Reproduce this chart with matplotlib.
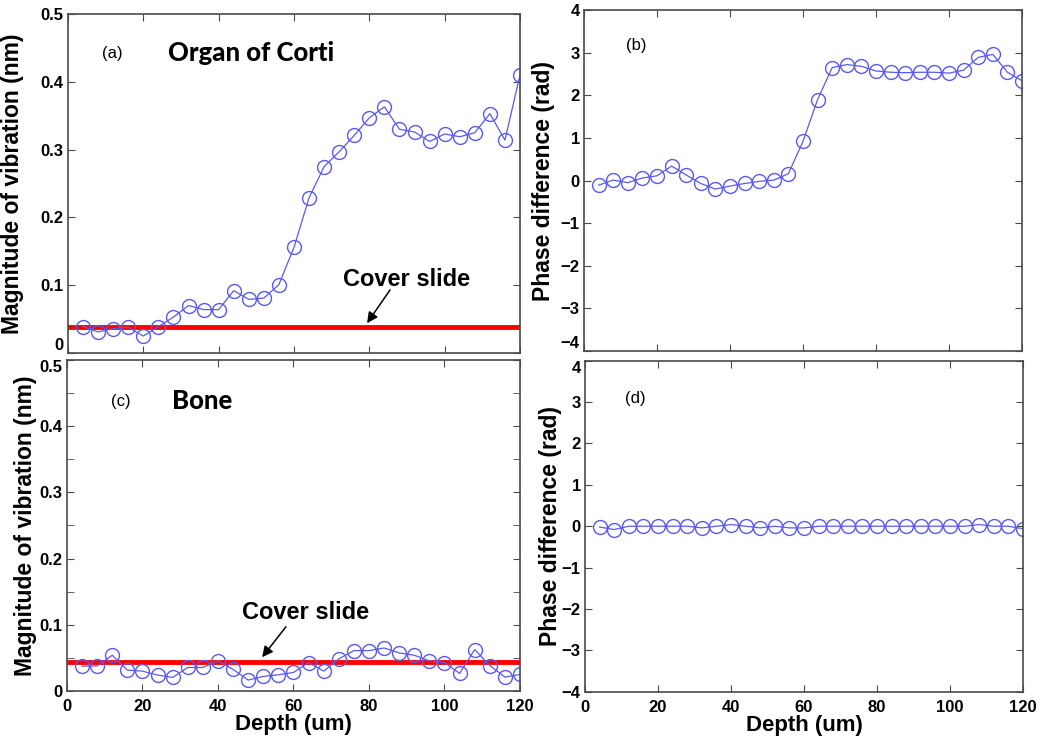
import matplotlib
matplotlib.use('Agg')
import matplotlib.pyplot as plt
import numpy as np
from matplotlib.ticker import MultipleLocator

plt.rcParams['font.family'] = ['Liberation Sans', 'DejaVu Sans']

# Depth samples (um)
depth = np.arange(4, 121, 4)

# (a) Organ of Corti magnitude (nm)
mag_corti = [0.039, 0.031, 0.036, 0.038, 0.025, 0.039, 0.053, 0.070, 0.064, 0.064,
             0.092, 0.079, 0.081, 0.101, 0.156, 0.229, 0.275, 0.297, 0.321, 0.347,
             0.363, 0.330, 0.326, 0.312, 0.323, 0.319, 0.325, 0.353, 0.314, 0.410]
# (b) Organ of Corti phase (rad)
phase_corti = [-0.11, 0.01, -0.05, 0.06, 0.11, 0.34, 0.13, -0.07, -0.20, -0.13,
               -0.07, -0.02, 0.01, 0.16, 0.92, 1.90, 2.65, 2.72, 2.68, 2.57,
               2.54, 2.53, 2.54, 2.54, 2.52, 2.59, 2.89, 2.96, 2.54, 2.34]
# (c) Bone magnitude (nm)
mag_bone = [0.0375, 0.038, 0.054, 0.0315, 0.030, 0.024, 0.0205, 0.0355, 0.0355, 0.0455,
            0.0325, 0.0165, 0.022, 0.0245, 0.028, 0.043, 0.030, 0.0485, 0.061, 0.061,
            0.065, 0.0575, 0.054, 0.0455, 0.043, 0.0265, 0.0625, 0.0385, 0.021, 0.025]
# (d) Bone phase (rad)
phase_bone = [-0.02, -0.08, 0.0, 0.0, 0.0, 0.0, 0.0, -0.04, 0.0, 0.04,
              0.0, -0.04, 0.0, -0.04, -0.04, 0.0, 0.0, 0.0, 0.0, 0.0,
              0.0, 0.0, 0.0, 0.0, 0.0, 0.0, 0.04, 0.0, 0.0, -0.06]

cover_corti = 0.038
cover_bone = 0.044

line_col = '#5a5af0'
edge_col = '#4a4a4a'

fig = plt.figure(figsize=(10.4, 7.38), dpi=100)
ax_a = fig.add_axes([0.0654, 0.5217, 0.4346, 0.4593])
ax_b = fig.add_axes([0.5615, 0.5244, 0.4212, 0.4620])
ax_c = fig.add_axes([0.0644, 0.0637, 0.4356, 0.4485])
ax_d = fig.add_axes([0.5625, 0.0627, 0.4212, 0.4485])


def style(ax, ylim, ymaj, yminor=None, xlabels=True):
    ax.set_xlim(0, 120)
    ax.set_ylim(*ylim)
    ax.xaxis.set_major_locator(MultipleLocator(20))
    ax.yaxis.set_major_locator(MultipleLocator(ymaj))
    if yminor:
        ax.yaxis.set_minor_locator(MultipleLocator(yminor))
        ax.tick_params(axis='y', which='minor', direction='in', length=5,
                       left=True, right=True, color=edge_col)
    ax.tick_params(which='major', direction='in', length=5, top=True, right=True,
                   color=edge_col, labelsize=12, pad=3)
    ax.tick_params(axis='x', pad=6)
    for lab in ax.get_xticklabels() + ax.get_yticklabels():
        lab.set_fontweight('bold')
    if not xlabels:
        ax.tick_params(axis='x', labelbottom=False)
    for s in ax.spines.values():
        s.set_color(edge_col)
        s.set_linewidth(1.2)


def draw(ax, y):
    ax.plot(depth, y, '-', color=line_col, lw=0.9, marker='o', ms=10,
            mfc='none', mec=line_col, mew=1.0)


def cover_label(ax, txt_xy, tail, head):
    ax.text(txt_xy[0], txt_xy[1], 'Cover slide', fontsize=17, fontweight='bold',
            ha='left', va='center')
    ax.annotate('', xy=head, xytext=tail,
                arrowprops=dict(arrowstyle='-|>', color='black', lw=1.1,
                                mutation_scale=16, shrinkA=0, shrinkB=0))


zero_fmt = plt.FuncFormatter(lambda v, p: '0' if v == 0 else '%g' % v)

# (a)
draw(ax_a, mag_corti)
ax_a.axhline(cover_corti, color='#ff0000', lw=3.5, zorder=1)
style(ax_a, (0, 0.5), 0.1, xlabels=False)
ax_a.yaxis.set_major_formatter(zero_fmt)
ax_a.set_ylabel('Magnitude of vibration (nm)', fontsize=16.5, fontweight='bold')
ax_a.yaxis.set_label_coords(-0.097, 0.5)
ax_a.text(0.098, 0.885, '(a)', transform=ax_a.transAxes, fontsize=12, va='center', ha='center')
ax_a.text(0.222, 0.885, 'Organ of Corti', transform=ax_a.transAxes, fontsize=18.5,
          fontweight='black', family=['Lato', 'DejaVu Sans'], va='center', ha='left')
cover_label(ax_a, (73.0, 0.108), (85.5, 0.093), (79.4, 0.044))

# (b)
draw(ax_b, phase_corti)
style(ax_b, (-4, 4), 1, xlabels=False)
ax_b.set_ylabel('Phase difference (rad)', fontsize=16.5, fontweight='bold')
ax_b.yaxis.set_label_coords(-0.066, 0.5)
ax_b.text(0.12, 0.895, '(b)', transform=ax_b.transAxes, fontsize=12, va='center', ha='center')

# (c)
draw(ax_c, mag_bone)
ax_c.axhline(cover_bone, color='#ff0000', lw=3.5, zorder=1)
style(ax_c, (0, 0.5), 0.1, yminor=0.05)
ax_c.yaxis.set_major_formatter(zero_fmt)
ax_c.set_ylabel('Magnitude of vibration (nm)', fontsize=16.5, fontweight='bold')
ax_c.yaxis.set_label_coords(-0.066, 0.5)
ax_c.set_xlabel('Depth (um)', fontsize=16, fontweight='bold', labelpad=0)
ax_c.text(0.118, 0.875, '(c)', transform=ax_c.transAxes, fontsize=12, va='center', ha='center')
ax_c.text(0.232, 0.875, 'Bone', transform=ax_c.transAxes, fontsize=18.5,
          fontweight='black', family=['Lato', 'DejaVu Sans'], va='center', ha='left')
cover_label(ax_c, (46.4, 0.118), (58.0, 0.097), (51.7, 0.051))

# (d)
draw(ax_d, phase_bone)
style(ax_d, (-4, 4), 1)
ax_d.set_ylabel('Phase difference (rad)', fontsize=16.5, fontweight='bold')
ax_d.yaxis.set_label_coords(-0.053, 0.5)
ax_d.set_xlabel('Depth (um)', fontsize=16, fontweight='bold', labelpad=0)
ax_d.text(0.115, 0.885, '(d)', transform=ax_d.transAxes, fontsize=12, va='center', ha='center')

# nudge the tick labels where the upper and lower panels meet
fig.canvas.draw()
for ax in (ax_a, ax_b):
    lo = ax.get_ylim()[0]
    for t in ax.yaxis.get_major_ticks():
        if abs(t.get_loc() - lo) < 1e-9:
            t.label1.set_va('bottom')
for ax in (ax_c, ax_d):
    hi = ax.get_ylim()[1]
    for t in ax.yaxis.get_major_ticks():
        if abs(t.get_loc() - hi) < 1e-9:
            t.label1.set_va('top')

fig.savefig('out.png', dpi=100)
plt.close(fig)
